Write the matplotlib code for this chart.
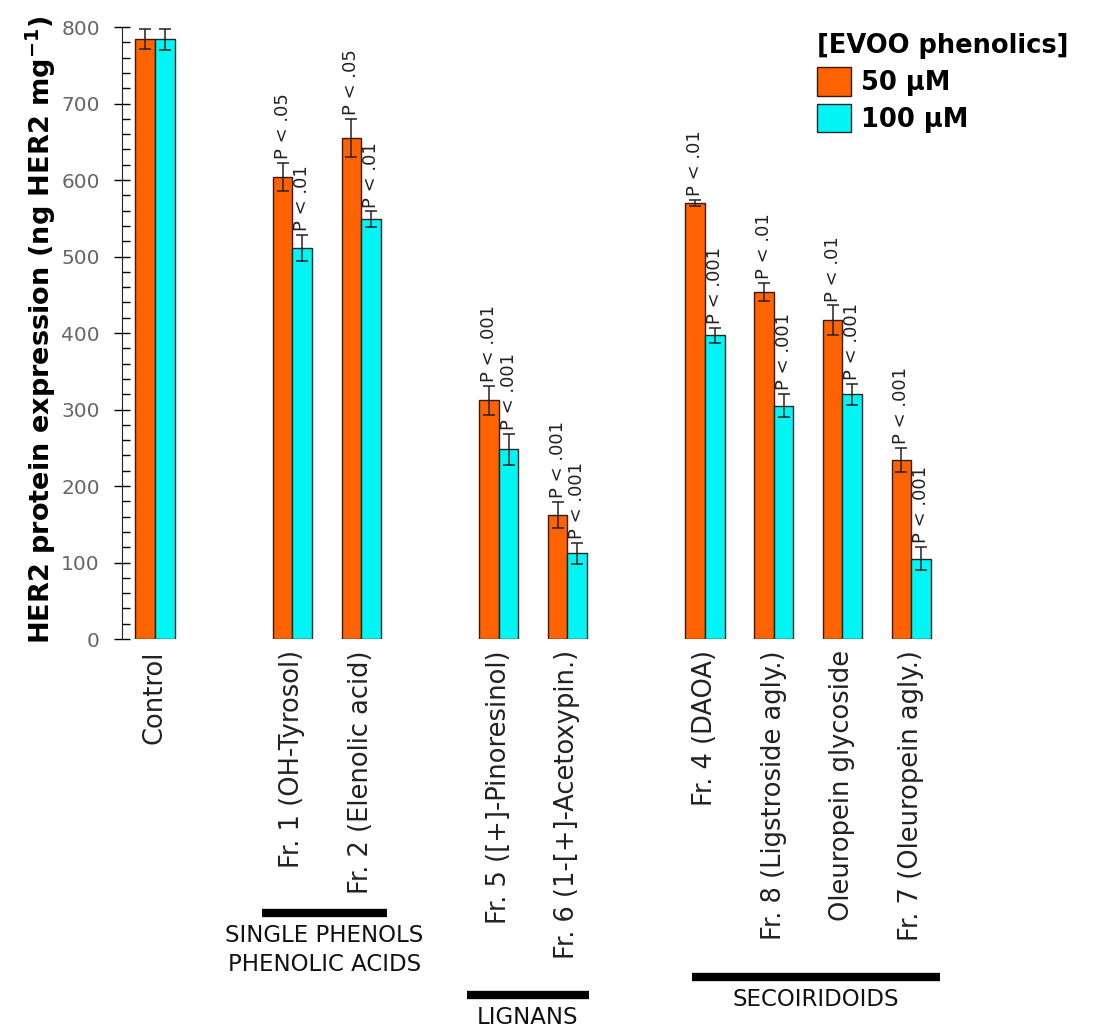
import matplotlib.pyplot as plt
import matplotlib.transforms as mtransforms
import numpy as np

# data
labels = ['Control', 'Fr. 1 (OH-Tyrosol)', 'Fr. 2 (Elenolic acid)',
          'Fr. 5 ([+]-Pinoresinol)', 'Fr. 6 (1-[+]-Acetoxypin.)',
          'Fr. 4 (DAOA)', 'Fr. 8 (Ligstroside agly.)',
          'Oleuropein glycoside', 'Fr. 7 (Oleuropein agly.)']
slots = [0, 2, 3, 5, 6, 8, 9, 10, 11]

her2_50 = [784, 604, 655, 312, 162, 570, 454, 417, 234]
err_50 = [13, 18, 25, 19, 17, 4, 12, 19, 16]
her2_100 = [784, 511, 549, 248, 112, 397, 305, 320, 105]
err_100 = [14, 17, 10, 20, 14, 10, 15, 14, 15]

p_50 = ['', 'P < .05', 'P < .05', 'P < .001', 'P < .001',
        'P < .01', 'P < .01', 'P < .01', 'P < .001']
p_100 = ['', 'P < .01', 'P < .01', 'P < .001', 'P < .001',
         'P < .001', 'P < .001', 'P < .001', 'P < .001']

groups = ['SINGLE PHENOLS\nPHENOLIC ACIDS', 'LIGNANS', 'SECOIRIDOIDS']
group_span = [(1.56, 3.37), (4.54, 6.31), (7.81, 11.42)]
group_line_y = [0.1153, 0.036, 0.0533]

orange = '#FF6200'
cyan = '#00F5F5'
w = 0.285

fig = plt.figure(figsize=(11, 10.32), dpi=100)
ax = fig.add_axes([0.1109, 0.3808, 0.78, 0.593])

x = np.array(slots, dtype=float)
ekw = dict(elinewidth=1.1, capthick=1.1, ecolor='#222222')
b1 = ax.bar(x - w / 2, her2_50, w, color=orange, edgecolor='#3a1a10', linewidth=1,
            yerr=err_50, capsize=4.5, error_kw=ekw, label='50 \u03bcM')
b2 = ax.bar(x + w / 2, her2_100, w, color=cyan, edgecolor='#1a2a2a', linewidth=1,
            yerr=err_100, capsize=4.5, error_kw=ekw, label='100 \u03bcM')

for xi, v, e, p in zip(x - w / 2, her2_50, err_50, p_50):
    if p:
        ax.text(xi, v + e + 5, p, rotation=90, ha='center', va='bottom',
                fontsize=13, color='#222222')
for xi, v, e, p in zip(x + w / 2, her2_100, err_100, p_100):
    if p:
        ax.text(xi, v + e + 5, p, rotation=90, ha='center', va='bottom',
                fontsize=13, color='#222222')

ax.set_xlim(-0.48, 12)
ax.set_ylim(0, 800)
ax.set_xticks(x)
ax.set_xticklabels(labels, rotation=90, fontsize=18.5, color='#222222')
ax.tick_params(axis='x', length=0, pad=8)
ax.set_yticks(np.arange(0, 801, 100))
ax.set_yticks(np.arange(0, 801, 20), minor=True)
ax.tick_params(axis='y', which='major', direction='inout', length=12, width=1,
               labelsize=14.5, labelcolor='#666666', pad=10)
ax.tick_params(axis='y', which='minor', direction='in', length=6, width=1)
for s in ['top', 'right', 'bottom']:
    ax.spines[s].set_visible(False)
ax.spines['left'].set_color('#222222')
ax.set_ylabel('HER2 protein expression (ng HER2 mg$^{\\mathbf{-1}}$)',
              fontsize=19.5, fontweight='bold')
ax.yaxis.set_label_coords(-0.075, 0.505)

# group markers under the tick labels
trans = mtransforms.blended_transform_factory(ax.transData, fig.transFigure)
for name, (a, b), yl in zip(groups, group_span, group_line_y):
    ax.plot([a, b], [yl, yl], color='black', linewidth=6, transform=trans,
            clip_on=False, solid_capstyle='butt')
    ax.text((a + b) / 2, yl - 0.011, name, transform=trans, ha='center', va='top',
            fontsize=16.5, color='#111111', linespacing=1.3)

leg = ax.legend(handles=[b1, b2], title='[EVOO phenolics]', loc='upper left',
                bbox_to_anchor=(0.731, 0.98), bbox_transform=fig.transFigure,
                frameon=False, handlelength=1.33, handleheight=1.33, handletextpad=0.4,
                labelspacing=0.3, borderpad=0, alignment='left',
                prop=dict(size=18.5, weight='bold'),
                title_fontproperties=dict(size=18.5, weight='bold'))

fig.savefig('out.png', dpi=100)
